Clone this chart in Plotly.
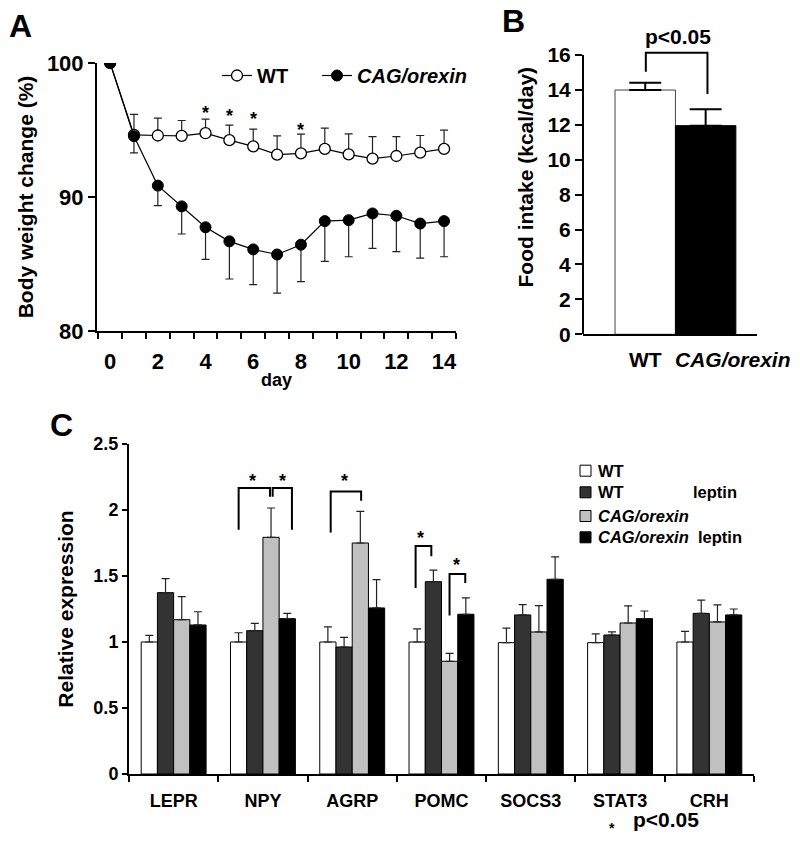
import plotly.graph_objects as go

FONT = "Liberation Sans, Arial, sans-serif"
W, H = 800, 853

# ---------------- Panel A data ----------------
days = list(range(15))
wt_bw = [100, 94.64, 94.59, 94.56, 94.76, 94.24, 93.78, 93.16, 93.26, 93.59, 93.18, 92.86, 93.06, 93.31, 93.59]
wt_bw_err = [0, 1.53, 1.30, 1.15, 1.05, 1.12, 1.28, 1.40, 1.43, 1.55, 1.53, 1.65, 1.45, 1.28, 1.40]
cag_bw = [100, 94.54, 90.85, 89.30, 87.74, 86.69, 86.09, 85.71, 86.44, 88.20, 88.27, 88.77, 88.60, 88.02, 88.20]
cag_bw_err = [0, 1.24, 1.50, 2.06, 2.40, 2.81, 2.63, 2.88, 2.76, 3.01, 2.73, 2.60, 2.68, 2.58, 2.66]
star_days = [4, 5, 6, 8]
star_y = [96.57, 96.37, 96.12, 95.29]
a_xtick_vals = [0, 2, 4, 6, 8, 10, 12, 14]

# ---------------- Panel B data ----------------
food_groups = ["WT", "CAG/orexin"]
food_mean = [13.99, 11.95]
food_err = [0.42, 0.94]

# ---------------- Panel C data ----------------
genes = ["LEPR", "NPY", "AGRP", "POMC", "SOCS3", "STAT3", "CRH"]
c_series = ["WT", "WT leptin", "CAG/orexin", "CAG/orexin leptin"]
c_wt = [1.00, 1.00, 1.00, 1.00, 0.995, 0.995, 1.00]
c_wt_err = [0.05, 0.07, 0.115, 0.10, 0.11, 0.066, 0.08]
c_wt_lep = [1.374, 1.086, 0.962, 1.457, 1.205, 1.053, 1.217]
c_wt_lep_err = [0.106, 0.055, 0.073, 0.088, 0.078, 0.023, 0.10]
c_cag = [1.169, 1.793, 1.75, 0.854, 1.076, 1.144, 1.152]
c_cag_err = [0.174, 0.222, 0.24, 0.06, 0.20, 0.13, 0.13]
c_cag_lep = [1.129, 1.177, 1.258, 1.21, 1.475, 1.177, 1.205]
c_cag_lep_err = [0.10, 0.04, 0.214, 0.124, 0.17, 0.058, 0.045]
c_colors = ["#ffffff", "#333333", "#c0c0c0", "#000000"]
# significance brackets: (x_left, x_right, y_left_end, y_top, y_right_end)
c_brackets = [
    (0.728, 1.079, 1.85, 2.167, 2.10),
    (1.109, 1.325, 2.10, 2.167, 1.85),
    (1.759, 2.100, 1.83, 2.140, 2.07),
    (2.710, 2.886, 1.41, 1.727, 1.65),
    (3.090, 3.266, 1.20, 1.515, 1.447),
]
c_stars_x = [0.885, 1.221, 1.919, 2.77, 3.17]
c_stars_y = [2.25, 2.25, 2.25, 1.82, 1.61]


def px_x(p):
    return p / W


def px_y(p):
    return 1 - p / H


def bold(size):
    return dict(size=size, family=FONT, weight="bold", color="black")


fig = go.Figure()

# Panel A traces
fig.add_trace(go.Scatter(
    x=days, y=wt_bw, name="WT", mode="lines+markers",
    line=dict(color="black", width=1.2),
    marker=dict(symbol="circle", size=11, color="white", line=dict(color="black", width=1.3)),
    error_y=dict(type="data", symmetric=False, array=wt_bw_err, arrayminus=[0] * len(days),
                 color="#222222", thickness=1.2, width=4),
    xaxis="x", yaxis="y", legend="legend",
))
fig.add_trace(go.Scatter(
    x=days, y=cag_bw, name="<i>CAG/orexin</i>", mode="lines+markers",
    line=dict(color="black", width=1.2),
    marker=dict(symbol="circle", size=11, color="black", line=dict(color="black", width=1)),
    error_y=dict(type="data", symmetric=False, array=[0] * len(days), arrayminus=cag_bw_err,
                 color="#222222", thickness=1.2, width=4),
    xaxis="x", yaxis="y", legend="legend2",
))

# Panel B trace
fig.add_trace(go.Bar(
    x=[0, 1], y=food_mean, width=1,
    marker=dict(color=["white", "black"], line=dict(color=["#444444", "black"], width=1)),
    error_y=dict(type="data", symmetric=False, array=food_err, arrayminus=[0, 0],
                 color="black", thickness=2, width=16),
    xaxis="x2", yaxis="y2", showlegend=False,
))

# Panel C traces
c_vals = [(c_wt, c_wt_err), (c_wt_lep, c_wt_lep_err), (c_cag, c_cag_err), (c_cag_lep, c_cag_lep_err)]
for i, (name, (vals, errs)) in enumerate(zip(c_series, c_vals)):
    fig.add_trace(go.Bar(
        x=list(range(len(genes))), y=vals, name=name, offsetgroup=str(i),
        marker=dict(color=c_colors[i], line=dict(color="black", width=1)),
        error_y=dict(type="data", symmetric=False, array=errs, arrayminus=[0] * len(vals),
                     color="#222222", thickness=1.2, width=4),
        xaxis="x3", yaxis="y3", showlegend=False,
    ))

shapes = []
annotations = []

# Panel A stars
for d, yv in zip(star_days, star_y):
    annotations.append(dict(x=d, y=yv, xref="x", yref="y", text="*", showarrow=False,
                            font=bold(18), yshift=-4))

# Panel B: y axis line drawn to top tick, bracket, p-value text, category labels
shapes.append(dict(type="line", xref="x2 domain", yref="y2", x0=0, x1=0, y0=0, y1=16,
                   line=dict(color="black", width=2)))
shapes.append(dict(type="path", xref="x2", yref="y2",
                   path="M 0.01,15.04 L 0.01,16.13 L 1.03,16.13 L 1.03,13.76",
                   line=dict(color="black", width=2)))
annotations.append(dict(x=0.55, y=17.05, xref="x2", yref="y2", text="p<0.05", showarrow=False,
                        font=bold(21)))
annotations.append(dict(x=0, y=0, xref="x2", yref="y2", text="WT", showarrow=False, yanchor="top",
                        yshift=-12, font=bold(21)))
annotations.append(dict(x=1.46, y=0, xref="x2", yref="y2", text="<i>CAG/orexin</i>", showarrow=False,
                        yanchor="top", yshift=-12, font=bold(21)))

# Panel C brackets and stars
for xl, xr, yl, yt, yr in c_brackets:
    shapes.append(dict(type="path", xref="x3", yref="y3",
                       path=f"M {xl},{yl} L {xl},{yt} L {xr},{yt} L {xr},{yr}",
                       line=dict(color="black", width=2)))
for sx, sy in zip(c_stars_x, c_stars_y):
    annotations.append(dict(x=sx, y=sy, xref="x3", yref="y3", text="*", showarrow=False, yshift=-4,
                            font=bold(18)))

# Panel C legend (manual)
leg_rows = [470.7, 492.3, 516.0, 537.3]
leg_main = ["WT", "WT", "<i>CAG/orexin</i>", "<i>CAG/orexin</i>"]
leg_extra = ["", "leptin", "", "leptin"]
leg_extra_x = [0, 691, 0, 696]
for i, cy in enumerate(leg_rows):
    shapes.append(dict(type="rect", xref="paper", yref="paper",
                       x0=px_x(580), x1=px_x(591), y0=px_y(cy + 5.5), y1=px_y(cy - 5.5),
                       fillcolor=c_colors[i], line=dict(color="black", width=1)))
    annotations.append(dict(x=px_x(596), y=px_y(cy), xref="paper", yref="paper", text=leg_main[i],
                            xanchor="left", yanchor="middle", showarrow=False, font=bold(16.5)))
    if leg_extra[i]:
        annotations.append(dict(x=px_x(leg_extra_x[i]), y=px_y(cy), xref="paper", yref="paper",
                                text=leg_extra[i], xanchor="left", yanchor="middle", showarrow=False,
                                font=bold(16.5)))

# footnote
annotations.append(dict(x=px_x(617), y=px_y(838), xref="paper", yref="paper", text="*", showarrow=False,
                        font=bold(14)))
annotations.append(dict(x=px_x(631), y=px_y(833), xref="paper", yref="paper", text="p<0.05",
                        xanchor="left", showarrow=False, font=bold(21)))

# Panel letters
for letter, lx, ly in [("A", 20.5, 26), ("B", 513.5, 21), ("C", 61.5, 424.5)]:
    annotations.append(dict(x=px_x(lx), y=px_y(ly), xref="paper", yref="paper", text=letter,
                            xanchor="center", yanchor="middle", showarrow=False, font=bold(32)))

axis_common = dict(showgrid=False, zeroline=False, linecolor="black", tickcolor="black",
                   automargin=False)

fig.update_layout(
    template="none",
    width=W, height=H, margin=dict(l=0, r=0, t=0, b=0, autoexpand=False),
    paper_bgcolor="white", plot_bgcolor="white",
    font=dict(family=FONT, color="black", weight="bold"),
    barmode="group", bargap=0.273, bargroupgap=0,
    shapes=shapes, annotations=annotations,
    legend=dict(orientation="h", x=px_x(217), y=px_y(56), xanchor="left", yanchor="top",
                bgcolor="rgba(0,0,0,0)", font=bold(20), itemclick=False, itemdoubleclick=False),
    legend2=dict(orientation="h", x=px_x(317), y=px_y(56), xanchor="left", yanchor="top",
                 bgcolor="rgba(0,0,0,0)", font=bold(20), itemclick=False, itemdoubleclick=False),
    xaxis=dict(domain=[px_x(97), px_x(456)], range=[-0.55, 14.5], anchor="y",
               tickmode="array", tickvals=a_xtick_vals, ticks="", showline=True, linewidth=2,
               minor=dict(tickmode="array", tickvals=[v - 0.5 for v in range(16)], ticks="outside",
                          ticklen=6, tickwidth=2, tickcolor="black"),
               tickfont=bold(22), ticklabelstandoff=10,
               title=dict(text="day", font=bold(18), standoff=0),
               **axis_common),
    yaxis=dict(domain=[px_y(331), px_y(63)], range=[80, 100], anchor="x",
               tickmode="array", tickvals=[80, 90, 100], ticks="outside", ticklen=7, tickwidth=2,
               showline=True, linewidth=2, tickfont=bold(22),
               title=dict(text="Body weight change (%)", font=bold(21), standoff=8),
               **axis_common),
    xaxis2=dict(domain=[px_x(583), px_x(757)], range=[-1.03, 1.85], anchor="y2",
                showticklabels=False, ticks="", showline=True, linewidth=2, **axis_common),
    yaxis2=dict(domain=[px_y(334.3), px_y(334.3 - 18 * 17.46)], range=[0, 18], anchor="x2",
                tickmode="array", tickvals=list(range(0, 17, 2)), ticks="outside", ticklen=7,
                tickwidth=2, showline=False, tickfont=bold(21),
                title=dict(text="Food intake (kcal/day)", font=bold(21), standoff=8),
                **axis_common),
    xaxis3=dict(domain=[px_x(129), px_x(754)], range=[-0.5, 6.5], anchor="y3",
                tickmode="array", tickvals=list(range(len(genes))), ticktext=genes, ticks="",
                showline=True, linewidth=2,
                minor=dict(tickmode="array", tickvals=[v - 0.5 for v in range(len(genes) + 1)],
                           ticks="outside", ticklen=6, tickwidth=2, tickcolor="black"),
                tickfont=bold(18), ticklabelstandoff=9,
                **axis_common),
    yaxis3=dict(domain=[px_y(774), px_y(444)], range=[0, 2.5], anchor="x3",
                tickmode="array", tickvals=[0, 0.5, 1, 1.5, 2, 2.5], ticks="outside", ticklen=5,
                tickwidth=2, showline=True, linewidth=2, tickfont=bold(18),
                title=dict(text="Relative expression", font=bold(21), standoff=14),
                **axis_common),
)

fig.write_html(
    "out.html",
    config={"displayModeBar": False, "staticPlot": True},
    post_script="document.body.style.margin='0px';document.body.style.padding='0px';"
                "document.documentElement.style.overflow='hidden';",
)
